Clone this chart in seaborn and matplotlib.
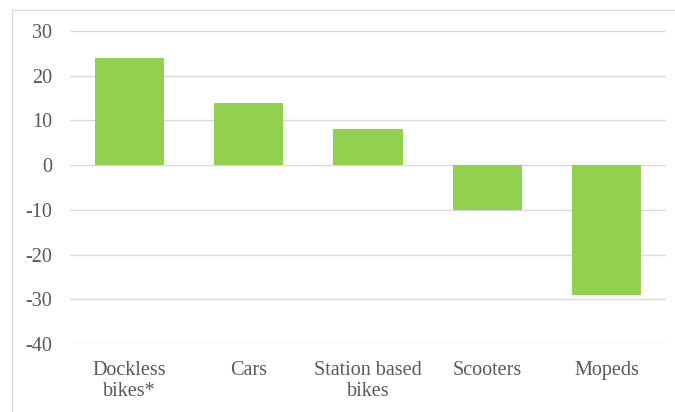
import matplotlib
matplotlib.use("Agg")
import matplotlib.pyplot as plt
from matplotlib.lines import Line2D
import seaborn as sns
import pandas as pd

categories = ["Dockless\nbikes*", "Cars", "Station based\nbikes", "Scooters", "Mopeds"]
values = [24, 14, 8, -10, -29]
y_ticks = [30, 20, 10, 0, -10, -20, -30, -40]

sns.set_theme(style="white")
plt.rcParams["font.family"] = ["Liberation Serif", "DejaVu Serif"]
plt.rcParams["axes.unicode_minus"] = False

df = pd.DataFrame({"mode": categories, "change": values})

fig = plt.figure(figsize=(6.75, 4.12), dpi=100)
ax = fig.add_axes([70 / 675, 68 / 412, 596 / 675, 313 / 412])

sns.barplot(data=df, x="mode", y="change", color="#92D050", saturation=1,
            width=0.58, linewidth=0, ax=ax, zorder=3)

ax.set_ylim(-40, 30)
ax.set_yticks(y_ticks)
ax.set_xlim(-0.5, len(categories) - 0.5)
ax.grid(axis="y", color="#D9D9D9", linewidth=1.0, zorder=0)
ax.grid(axis="x", visible=False)
for s in ax.spines.values():
    s.set_visible(False)
ax.set_xlabel("")
ax.set_ylabel("")
ax.tick_params(axis="y", length=0, pad=13, labelsize=14.5, labelcolor="#595959")
ax.tick_params(axis="x", length=0, pad=12, labelsize=14.5, labelcolor="#595959")
for lab in ax.get_xticklabels():
    lab.set_linespacing(1.2)

# chart frame
fig.add_artist(Line2D([11.5 / 675, 11.5 / 675], [0, (412 - 9.5) / 412],
                      transform=fig.transFigure, color="#D9D9D9", linewidth=1.0))
fig.add_artist(Line2D([11.5 / 675, 1], [(412 - 9.5) / 412, (412 - 9.5) / 412],
                      transform=fig.transFigure, color="#D9D9D9", linewidth=1.0))

fig.savefig("out.png", dpi=100)
